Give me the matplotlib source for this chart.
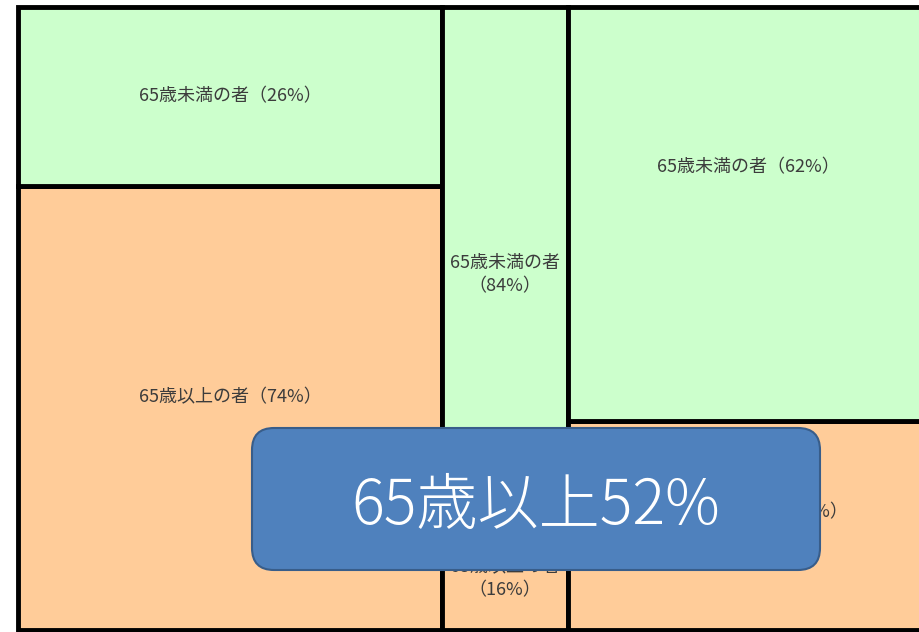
import matplotlib.pyplot as plt
from matplotlib.patches import FancyBboxPatch

plt.rcParams['font.family'] = ['Noto Sans CJK JP', 'DejaVu Sans']

# column widths (relative) and share of the green (under 65) part
col_widths = [424, 126, 360]
green_height = [28.7, 84, 66.4]
green_labels = ["65歳未満の者（26%）", "65歳未満の者\n（84%）", "65歳未満の者（62%）"]
orange_labels = ["65歳以上の者（74%）", "65歳以上の者\n（16%）", "65歳以上の者（38%）"]
callout_text = "65歳以上52%"

# label positions (axis units), the original doesn't centre them exactly
green_label_y = [85.6, 57.0, 74.2]
orange_label_y = [37.4, 8.3, 18.9]
orange_label_dx = [0, 0, 8]

GREEN = "#CCFFCC"
ORANGE = "#FFCC99"
TEXT = "#3c3c3c"

W, H = 920, 632
fig = plt.figure(figsize=(W / 100, H / 100), dpi=100)
# chart runs off the right edge of the picture, as in the original
ax = fig.add_axes([18 / W, 2 / H, 910 / W, 623 / H])
ax.set_xlim(0, sum(col_widths))
ax.set_ylim(0, 100)
ax.axis("off")

left = 0
for i, w in enumerate(col_widths):
    g = green_height[i]
    o = 100 - g
    ax.bar(left, o, width=w, bottom=0, align="edge", color=ORANGE,
           edgecolor="black", linewidth=3.5, clip_on=False)
    ax.bar(left, g, width=w, bottom=o, align="edge", color=GREEN,
           edgecolor="black", linewidth=3.5, clip_on=False)
    ax.text(left + w / 2, green_label_y[i], green_labels[i], ha="center", va="center",
            fontsize=13, color=TEXT, linespacing=1.4)
    ax.text(left + w / 2 + orange_label_dx[i], orange_label_y[i], orange_labels[i],
            ha="center", va="center", fontsize=13, color=TEXT, linespacing=1.4)
    left += w

# rounded callout box (in inches, figure space), covers part of the labels
r = 0.22
x0, x1 = 2.52, 8.20
y0, y1 = 0.62, 2.04
box = FancyBboxPatch((x0 + r, y0 + r), x1 - x0 - 2 * r, y1 - y0 - 2 * r,
                     boxstyle=f"round,pad={r},rounding_size={r}",
                     transform=fig.dpi_scale_trans, facecolor="#4F81BD",
                     edgecolor="#385D8A", linewidth=1.5)
fig.add_artist(box)
fig.text((x0 + x1) / 2 / (W / 100), ((y0 + y1) / 2 - 0.08) / (H / 100), callout_text,
         ha="center", va="center", color="white", fontsize=44, fontweight="light")

fig.savefig("out.png", dpi=100)
